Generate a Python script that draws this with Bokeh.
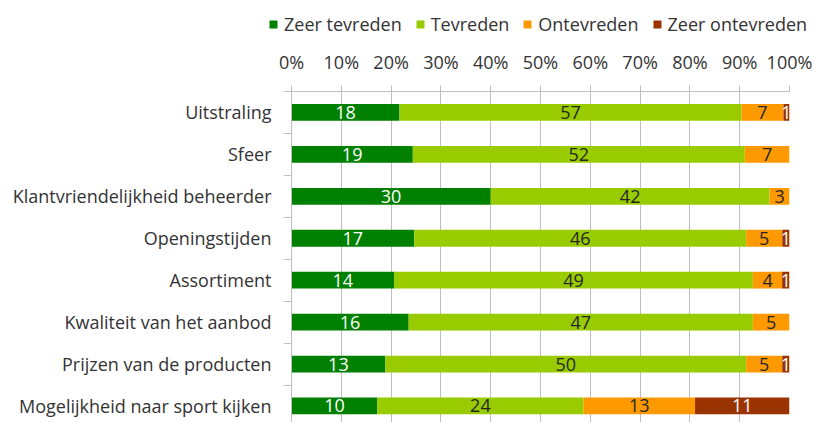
from bokeh.plotting import figure
from bokeh.models import (ColumnDataSource, Range1d, FixedTicker, PrintfTickFormatter,
                          LinearAxis, Legend, LegendItem, Grid, CustomJSTickFormatter)
from bokeh.embed import file_html
from bokeh.resources import INLINE
from bokeh.core.properties import value

categories = ["Uitstraling", "Sfeer", "Klantvriendelijkheid beheerder", "Openingstijden",
              "Assortiment", "Kwaliteit van het aanbod", "Prijzen van de producten",
              "Mogelijkheid naar sport kijken"]
series_names = ["Zeer tevreden", "Tevreden", "Ontevreden", "Zeer ontevreden"]
zeer_tevreden = [18, 19, 30, 17, 14, 16, 13, 10]
tevreden = [57, 52, 42, 46, 49, 47, 50, 24]
ontevreden = [7, 7, 3, 5, 4, 5, 5, 13]
zeer_ontevreden = [1, 0, 0, 1, 1, 0, 1, 11]
x_ticks = [0, 10, 20, 30, 40, 50, 60, 70, 80, 90, 100]

colors = ["#008000", "#99CC00", "#FF9900", "#993300"]
label_colors = ["white", "#262626", "#262626", "white"]
FONT = "Open Sans"
FS = "18px"
TEXT = "#333333"
GRID = "#BFBFBF"
LEG_H = 46

series = [zeer_tevreden, tevreden, ontevreden, zeer_ontevreden]
n = len(categories)
ys = list(range(n))
totals = [sum(s[i] for s in series) for i in range(n)]

# ---- legend strip (separate root so it is not frame-aligned with the chart) ----
lf = figure(width=816, height=LEG_H, output_backend="svg", toolbar_location=None,
            x_range=Range1d(0, 1), y_range=Range1d(0, 1),
            x_axis_location=None, y_axis_location=None,
            min_border_left=0, min_border_right=0, min_border_top=0, min_border_bottom=0)
lf.outline_line_color = None
lf.xgrid.visible = False
lf.ygrid.visible = False
lf.border_fill_color = "white"

# ---- main chart ----
p = figure(width=816, height=422 - LEG_H, output_backend="svg", toolbar_location=None,
           x_range=Range1d(0, 100), y_range=Range1d(7.394, -0.5),
           x_axis_location=None, y_axis_location=None,
           min_border_left=291, min_border_right=27, min_border_top=91 - LEG_H,
           min_border_bottom=0)
p.outline_line_color = None
p.background_fill_color = "white"
p.border_fill_color = "white"

xaxis = LinearAxis(ticker=FixedTicker(ticks=x_ticks),
                   formatter=PrintfTickFormatter(format="%d%%"))
xaxis.axis_line_color = GRID
xaxis.major_tick_line_color = GRID
xaxis.major_tick_out = 6
xaxis.major_tick_in = 0
xaxis.minor_tick_line_color = None
xaxis.major_label_text_font = FONT
xaxis.major_label_text_font_size = FS
xaxis.major_label_text_color = TEXT
xaxis.major_label_standoff = 12
p.add_layout(xaxis, "above")

yaxis = LinearAxis(ticker=FixedTicker(ticks=ys, minor_ticks=[i - 0.5 for i in range(n + 1)]),
                   formatter=CustomJSTickFormatter(args=dict(labels=categories),
                                                   code="return labels[Math.round(tick)] || '';"))
yaxis.axis_line_color = GRID
yaxis.major_tick_line_color = None
yaxis.minor_tick_line_color = GRID
yaxis.minor_tick_out = 8
yaxis.minor_tick_in = 0
yaxis.major_label_text_font = FONT
yaxis.major_label_text_font_size = FS
yaxis.major_label_text_color = TEXT
yaxis.major_label_standoff = 12
p.add_layout(yaxis, "left")

g = Grid(dimension=0, ticker=FixedTicker(ticks=x_ticks), grid_line_color=GRID)
p.add_layout(g)

items = []
left = [0.0] * n
for k, s in enumerate(series):
    pct = [s[i] / totals[i] * 100 for i in range(n)]
    right = [left[i] + pct[i] for i in range(n)]
    mid = [(left[i] + right[i]) / 2 for i in range(n)]
    src = ColumnDataSource(dict(y=ys, left=list(left), right=right))
    p.hbar(y="y", left="left", right="right", height=0.4, source=src,
           fill_color=colors[k], line_color=None)
    lab = [str(v) if v > 0 else "" for v in s]
    tsrc = ColumnDataSource(dict(x=mid, y=ys, t=lab))
    p.text(x="x", y="y", text="t", source=tsrc, text_align="center", text_baseline="middle",
           text_font=value(FONT), text_font_size=FS, text_color=label_colors[k])
    # legend proxy in the strip (placed outside the strip's visible range)
    dr = lf.hbar(y=[-10], left=[0], right=[1], height=0.4, fill_color=colors[k], line_color=None)
    items.append(LegendItem(label=series_names[k], renderers=[dr]))
    left = right

legend = Legend(items=items, orientation="horizontal", location=(268, 10))
legend.label_text_font = FONT
legend.label_text_font_size = FS
legend.label_text_color = TEXT
legend.glyph_width = 10
legend.glyph_height = 10
legend.label_standoff = 6
legend.spacing = 13
legend.padding = 0
legend.margin = 0
legend.border_line_color = None
legend.background_fill_alpha = 0
lf.add_layout(legend, "center")

open("out.html", "w").write(file_html((lf, p), INLINE))
